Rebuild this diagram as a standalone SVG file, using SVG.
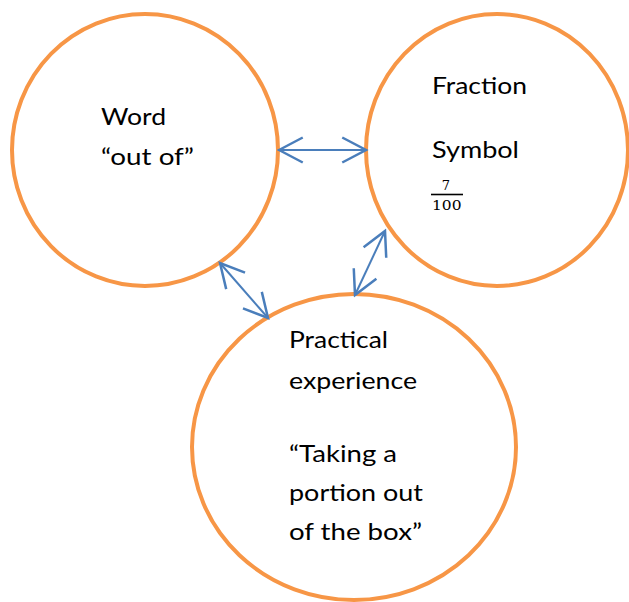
<svg xmlns="http://www.w3.org/2000/svg" width="629" height="602" viewBox="0 0 629 602">
<defs>
<style>
.node{fill:#ffffff;stroke:#F79646;stroke-width:4}
.lbl{font-family:Lato,"Open Sans","Liberation Sans",sans-serif;font-size:23px;fill:#000000}
.frac{font-family:"DejaVu Serif","Liberation Serif",serif;font-size:13px;fill:#000000}
.conn{stroke:#4A7EBB;stroke-width:2;fill:none;marker-start:url(#ah);marker-end:url(#ah)}
</style>
<marker id="ah" markerUnits="userSpaceOnUse" markerWidth="30" markerHeight="30" viewBox="-22 -12 24 24" refX="0" refY="0" orient="auto-start-reverse">
<path d="M-19,-10 L0,0 L-19,10" fill="none" stroke="#4A7EBB" stroke-width="2"/>
</marker>
</defs>
<rect width="629" height="602" fill="#ffffff"/>
<g id="node-word">
<ellipse class="node" cx="145" cy="150" rx="133" ry="136"/>
<text class="lbl" x="101" y="125" textLength="65" lengthAdjust="spacingAndGlyphs">Word</text>
<text class="lbl" x="101" y="165" textLength="93" lengthAdjust="spacingAndGlyphs">“out of”</text>
</g>
<g id="node-fraction">
<ellipse class="node" cx="497" cy="150" rx="131" ry="136"/>
<text class="lbl" x="432" y="94" textLength="95" lengthAdjust="spacingAndGlyphs">Fraction</text>
<text class="lbl" x="432" y="158" textLength="87" lengthAdjust="spacingAndGlyphs">Symbol</text>
<text class="frac" x="446" y="190" text-anchor="middle">7</text>
<line x1="431" y1="194.5" x2="463" y2="194.5" stroke="#000000" stroke-width="1.6"/>
<text class="frac" x="432" y="210" textLength="29.5" lengthAdjust="spacingAndGlyphs">100</text>
</g>
<g id="node-practical">
<ellipse class="node" cx="354" cy="447" rx="162" ry="153"/>
<text class="lbl" x="289" y="348" textLength="99" lengthAdjust="spacingAndGlyphs">Practical</text>
<text class="lbl" x="289" y="389" textLength="128" lengthAdjust="spacingAndGlyphs">experience</text>
<text class="lbl" x="289" y="462" textLength="108" lengthAdjust="spacingAndGlyphs">“Taking a</text>
<text class="lbl" x="289" y="501" textLength="134" lengthAdjust="spacingAndGlyphs">portion out</text>
<text class="lbl" x="289" y="540" textLength="133" lengthAdjust="spacingAndGlyphs">of the box”</text>
</g>
<g id="connectors">
<line class="conn" x1="279" y1="150" x2="366" y2="150"/>
<line class="conn" x1="220" y1="263" x2="268" y2="318"/>
<line class="conn" x1="385" y1="231" x2="355" y2="295"/>
</g>
</svg>
